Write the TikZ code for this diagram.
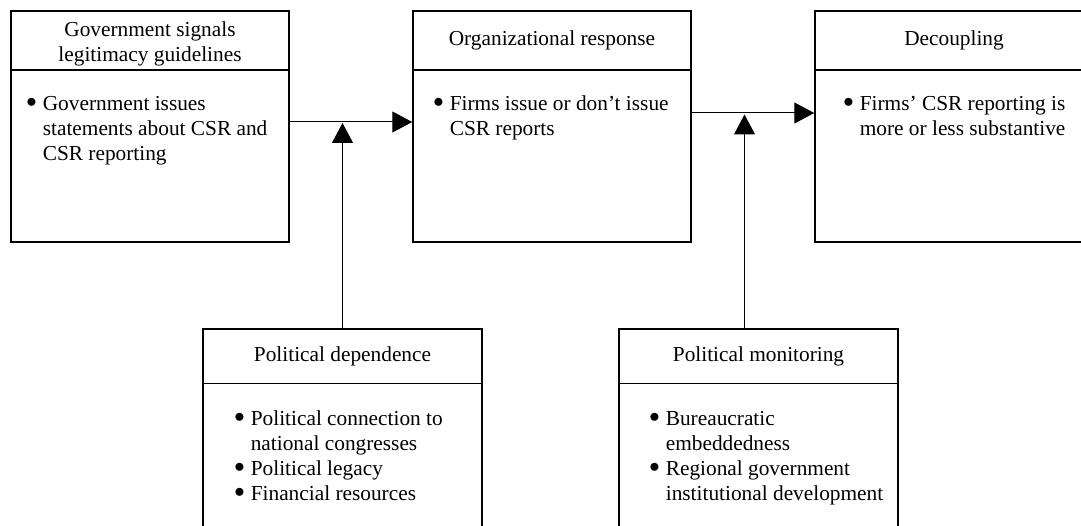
\documentclass[tikz,border=0pt]{standalone}
\usepackage{fontspec}
\setmainfont{Liberation Serif}
\usetikzlibrary{calc,arrows.meta}
\tikzset{
	box/.style={draw, line width=1.5pt, minimum width=278pt, minimum height=231pt, inner sep=0pt},
	head/.style={align=center, inner sep=0pt},
	body/.style={anchor=base west, inner sep=0pt},
	arr/.style={line width=1pt, -{Triangle[length=20pt,width=21pt]}}
}
\newcommand{\bul}{\raisebox{2.3pt}{$\bullet$}}
\newcommand{\bullist}[1]{\begin{tabular}[t]{@{}l@{\hspace{6pt}}l@{}}#1\end{tabular}}

\begin{document}
\begin{tikzpicture}[x=1pt, y=-1pt, font=\fontsize{21.33}{25}\selectfont]
			%%%%% START %%%%%
			\useasboundingbox (0,0) rectangle (1081,526);
			\clip (0,0) rectangle (1081,526);
			
			% top row
			\node[box] (gov) at (150,126.5) {};
			\node[box] (org) at (552,126.5) {};
			\node[box] (dec) at (954,126.5) {};
			\foreach \b in {gov,org,dec}
				\draw[line width=1.5pt] ($(\b.north west)+(0,60)$) -- ($(\b.north east)+(0,60)$);
			
			\node[head] (govT) at ($(gov.north)+(0,34)$) {Government signals\\legitimacy guidelines};
			\node[head] (orgT) at ($(org.north)+(0,30)$) {Organizational response};
			\node[head] (decT) at ($(dec.north)+(0,30)$) {Decoupling};
			
			\node[body] (govB) at ($(gov.north west)+(16,100)$) {\bullist{\bul & Government issues\\ & statements about CSR and\\ & CSR reporting}};
			\node[body] (orgB) at ($(org.north west)+(21,100)$) {\bullist{\bul & Firms issue or don't issue\\ & CSR reports}};
			\node[body] (decB) at ($(dec.north west)+(29,100)$) {\bullist{\bul & Firms' CSR reporting is\\ & more or less substantive}};
			
			% bottom row
			\node[box, minimum width=279pt] (dep) at (342.5,444.5) {};
			\node[box, minimum width=279pt] (mon) at (758.5,444.5) {};
			\foreach \b in {dep,mon}
				\draw[line width=1.5pt] ($(\b.north west)+(0,55)$) -- ($(\b.north east)+(0,55)$);
			
			\node[head] (depT) at ($(dep.north)+(0,28.5)$) {Political dependence};
			\node[head] (monT) at ($(mon.north)+(0,28.5)$) {Political monitoring};
			
			\node[body] (depB) at ($(dep.north west)+(32,97)$) {\bullist{\bul & Political connection to\\ & national congresses\\ \bul & Political legacy\\ \bul & Financial resources}};
			\node[body] (monB) at ($(mon.north west)+(31,97)$) {\bullist{\bul & Bureaucratic\\ & embeddedness\\ \bul & Regional government\\ & institutional development}};
			
			% arrows
			\coordinate (j1) at (342.5,122);
			\coordinate (j2) at (744.5,113);
			\draw[arr] (gov.east |- j1) -- (org.west |- j1);
			\draw[arr] (org.east |- j2) -- (dec.west |- j2);
			\draw[arr, shorten >=1pt] (dep.north -| j1) -- (j1);
			\draw[arr, shorten >=1.5pt] (mon.north -| j2) -- (j2);
			%%%%% END %%%%%
\end{tikzpicture}
\end{document}
